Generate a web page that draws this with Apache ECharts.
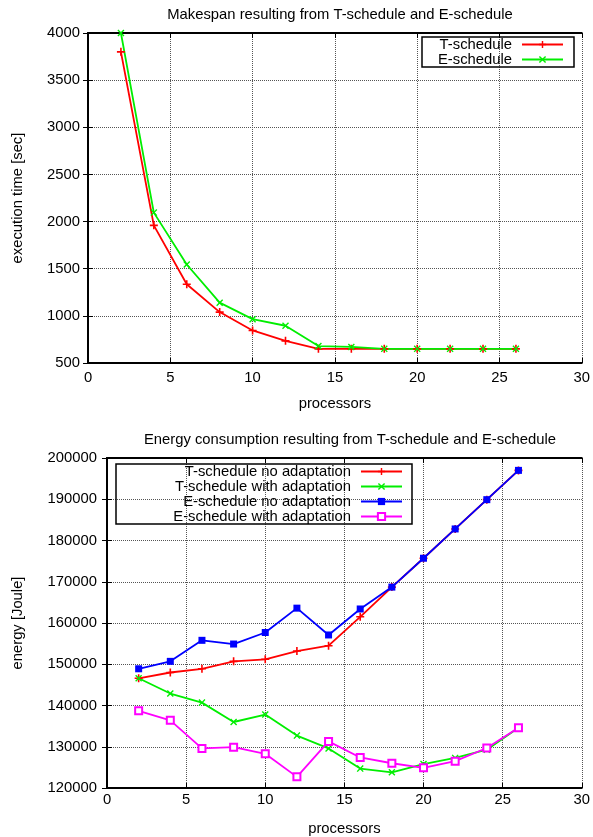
<!DOCTYPE html>
<html>
<head>
<meta charset="utf-8">
<script src="https://cdn.jsdelivr.net/npm/echarts@6/dist/echarts.min.js"></script>
<style>
  html, body { margin: 0; padding: 0; background: #fff; }
  #main { width: 593px; height: 837px; }
</style>
</head>
<body>
<div id="main"></div>
<script>
// processors (x values)
var procs = [2, 4, 6, 8, 10, 12, 14, 16, 18, 20, 22, 24, 26];

// makespan [sec]
var tSchedule = [3800, 1960, 1335, 1040, 845, 735, 650, 650, 650, 650, 650, 650, 650];
var eSchedule = [4000, 2095, 1545, 1140, 965, 895, 680, 670, 650, 650, 650, 650, 650];

// energy [Joule]
var tNoAdapt   = [146600, 148000, 148900, 150700, 151200, 153200, 154500, 161500, 168700, 175700, 182800, 189900, 197000];
var tWithAdapt = [146600, 142900, 140700, 136000, 137800, 132700, 129600, 124700, 123800, 125800, 127300, 129300, 134600];
var eNoAdapt   = [148900, 150700, 155800, 154900, 157700, 163600, 157100, 163400, 168700, 175700, 182800, 189900, 197000];
var eWithAdapt = [138700, 136400, 129600, 129900, 128300, 122700, 131300, 127400, 126000, 124900, 126500, 129700, 134600];

function pairs(ys) {
    return procs.map(function (p, i) { return [p, ys[i]]; });
}

var FONT = '"Liberation Sans", Arial, sans-serif';
var FS = 14.8;
var plusPath = 'path://M4,0h2v4h4v2h-4v4h-2v-4h-4v-2h4z';
var crossPath = 'path://M1.4,0L5,3.6L8.6,0L10,1.4L6.4,5L10,8.6L8.6,10L5,6.4L1.4,10L0,8.6L3.6,5L0,1.4z';

var chart = echarts.init(document.getElementById('main'));

function plain(v) { return String(v); }

function xAxisFor(gridIndex, labelMargin) {
    return [{
        gridIndex: gridIndex, type: 'value', min: 0, max: 30, interval: 5,
        name: 'processors', nameLocation: 'middle', nameGap: 33,
        nameTextStyle: { fontFamily: FONT, fontSize: FS, color: '#000' },
        axisLine: { lineStyle: { color: '#000', width: 2 } },
        axisTick: { inside: true, length: 5, lineStyle: { color: '#000', width: 1 } },
        axisLabel: { fontFamily: FONT, fontSize: FS, color: '#000', margin: labelMargin, formatter: plain },
        splitLine: { show: true, lineStyle: { type: 'dotted', color: '#555', width: 1 } }
    }, {
        gridIndex: gridIndex, type: 'value', min: 0, max: 30, interval: 5, position: 'top',
        axisLine: { lineStyle: { color: '#000', width: 2 } },
        axisTick: { inside: true, length: 5, lineStyle: { color: '#000' } },
        axisLabel: { show: false }, splitLine: { show: false }
    }];
}

function yAxisFor(gridIndex, min, max, interval, name, gap, labelMargin) {
    return [{
        gridIndex: gridIndex, type: 'value', min: min, max: max, interval: interval,
        name: name, nameLocation: 'middle', nameGap: gap,
        nameTextStyle: { fontFamily: FONT, fontSize: FS, color: '#000' },
        axisLine: { show: true, lineStyle: { color: '#000', width: 2 } },
        axisTick: { show: true, inside: true, length: 5, lineStyle: { color: '#000' } },
        axisLabel: { fontFamily: FONT, fontSize: FS, color: '#000', margin: labelMargin, formatter: plain },
        splitLine: { show: true, lineStyle: { type: 'dotted', color: '#555', width: 1 } }
    }, {
        gridIndex: gridIndex, type: 'value', min: min, max: max, interval: interval, position: 'right',
        axisLine: { show: true, lineStyle: { color: '#000', width: 2 } },
        axisTick: { show: true, inside: true, length: 5, lineStyle: { color: '#000' } },
        axisLabel: { show: false }, splitLine: { show: false }
    }];
}

function line(name, data, color, symbol, size, xi, yi, itemStyle) {
    return {
        name: name, type: 'line', data: pairs(data),
        xAxisIndex: xi, yAxisIndex: yi,
        symbol: symbol, symbolSize: size, showAllSymbol: true,
        lineStyle: { color: color, width: 1.8 },
        itemStyle: itemStyle || { color: color, borderColor: color, borderWidth: 0 },
        animation: false
    };
}

function legendText(width) {
    return { fontFamily: FONT, fontSize: FS, color: '#000', width: width, align: 'right',
             lineHeight: 15, padding: [0, 5, 0, 0] };
}

var option = {
    backgroundColor: '#fff',
    animation: false,
    title: [{
        text: 'Makespan resulting from T-schedule and E-schedule',
        left: 335, textAlign: 'center', top: 2,
        textStyle: { fontFamily: FONT, fontSize: FS, fontWeight: 'normal', color: '#000' }
    }, {
        text: 'Energy consumption resulting from T-schedule and E-schedule',
        left: 345, textAlign: 'center', top: 427,
        textStyle: { fontFamily: FONT, fontSize: FS, fontWeight: 'normal', color: '#000' }
    }],
    grid: [
        { left: 88, right: 10, top: 33, height: 330 },
        { left: 107, right: 10, top: 458, height: 330 }
    ],
    legend: [{
        data: ['T-schedule', 'E-schedule'],
        orient: 'vertical', right: 19, top: 37, align: 'right',
        itemWidth: 41, itemHeight: 9, itemGap: 0, padding: [0, 10, 0, 5],
        borderColor: '#000', borderWidth: 1.5,
        textStyle: legendText(85)
    }, {
        data: ['T-schedule no adaptation', 'T-schedule with adaptation', 'E-schedule no adaptation', 'E-schedule with adaptation'],
        orient: 'vertical', left: 116, top: 464, align: 'right',
        itemWidth: 41, itemHeight: 9, itemGap: 0, padding: [0, 9, 0, 5],
        borderColor: '#000', borderWidth: 1.5,
        textStyle: legendText(230)
    }],
    xAxis: xAxisFor(0, 7).concat(xAxisFor(1, 4)),
    yAxis: yAxisFor(0, 500, 4000, 500, 'execution time [sec]', 63, 8)
        .concat(yAxisFor(1, 120000, 200000, 10000, 'energy [Joule]', 82, 10)),
    series: [
        line('T-schedule', tSchedule, '#ff0000', plusPath, 8, 0, 0),
        line('E-schedule', eSchedule, '#00ee00', crossPath, 7, 0, 0),
        line('T-schedule no adaptation', tNoAdapt, '#ff0000', plusPath, 8, 2, 2),
        line('T-schedule with adaptation', tWithAdapt, '#00ee00', crossPath, 7, 2, 2),
        line('E-schedule no adaptation', eNoAdapt, '#0000ff', 'rect', 7, 2, 2),
        line('E-schedule with adaptation', eWithAdapt, '#ff00ff', 'emptyRect', 7, 2, 2,
            { color: '#ff00ff', borderColor: '#ff00ff', borderWidth: 1.5 })
    ]
};

chart.setOption(option);
</script>
</body>
</html>
